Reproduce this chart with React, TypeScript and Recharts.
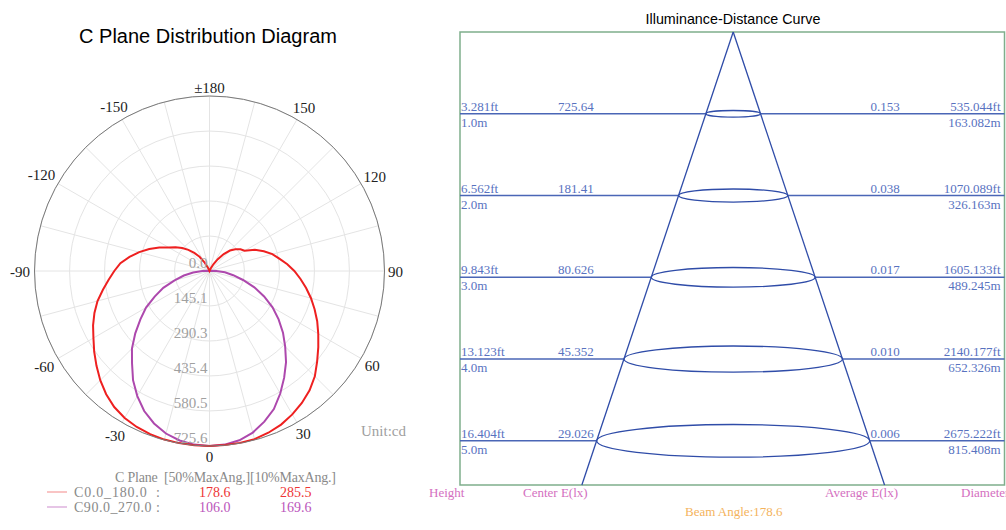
import React from 'react';
import {
  RadarChart,
  Radar,
  PolarGrid,
  PolarAngleAxis,
  PolarRadiusAxis,
  ComposedChart,
  XAxis,
  YAxis,
  ReferenceLine,
  ReferenceArea,
} from 'recharts';

const SERIF = "'Liberation Serif', 'Times New Roman', serif";
const SANS = "'Liberation Sans', Arial, sans-serif";

// ---------------- C plane polar data (cd) ----------------
const angles = [
  -180, -175, -170, -165, -160, -155, -150, -145, -140, -135, -130, -125, -120, -115, -110, -105, -100, -95,
  -90, -85, -80, -75, -70, -65, -60, -55, -50, -45, -40, -35, -30, -25, -20, -15, -10, -5,
  0, 5, 10, 15, 20, 25, 30, 35, 40, 45, 50, 55, 60, 65, 70, 75, 80, 85,
  90, 95, 100, 105, 110, 115, 120, 125, 130, 135, 140, 145, 150, 155, 160, 165, 170, 175, 180,
];
const c0Candela = [
  0, 0, 0, 0, 3, 15, 40, 72, 98, 124, 148, 172, 195, 230, 266, 302, 337, 371,
  395, 420, 449, 481, 508, 533, 556, 584, 612, 641, 667, 689, 704, 714, 720, 724, 725, 725.6,
  725.6, 725, 724, 722, 714, 703, 687, 668, 646, 618, 583, 551, 521, 493, 464, 436, 407, 379,
  352, 324, 294, 270, 240, 208, 168, 157, 140, 120, 92, 60, 32, 10, 0, 0, 0, 0, 0,
];
const c90Candela = [
  0, 0, 0, 0, 0, 0, 0, 0, 0, 0, 0, 0, 0, 0, 0, 0, 0, 8,
  30, 68, 108, 150, 204, 251, 304, 350, 402, 455, 500, 553, 599, 641, 673, 698, 714, 723,
  725.6, 723, 713, 694, 665, 632, 587, 540, 494, 444, 398, 350, 302, 250, 198, 144, 100, 64,
  28, 7, 0, 0, 0, 0, 0, 0, 0, 0, 0, 0, 0, 0, 0, 0, 0, 0, 0,
];
const radiusTicks = [0, 145.1, 290.3, 435.4, 580.5, 725.6];
const angleTicks = [
  -165, -150, -135, -120, -105, -90, -75, -60, -45, -30, -15, 0, 15, 30, 45, 60, 75, 90, 105, 120, 135, 150, 165, 180,
];
const MAX_CD = 725.6;

const planeNames = ['C0.0_180.0  :', 'C90.0_270.0 :'];
const halfMaxAngles = ['178.6', '106.0'];
const tenthMaxAngles = ['285.5', '169.6'];

// ---------------- Illuminance-distance data ----------------
const heightsM = [1, 2, 3, 4, 5];
const heightFtLabels = ['3.281ft', '6.562ft', '9.843ft', '13.123ft', '16.404ft'];
const heightMLabels = ['1.0m', '2.0m', '3.0m', '4.0m', '5.0m'];
const centerE = ['725.64', '181.41', '80.626', '45.352', '29.026'];
const averageE = ['0.153', '0.038', '0.017', '0.010', '0.006'];
const diameterFt = ['535.044ft', '1070.089ft', '1605.133ft', '2140.177ft', '2675.222ft'];
const diameterM = ['163.082m', '326.163m', '489.245m', '652.326m', '815.408m'];
const beamAngle = '178.6';

const polarData = angles.map((angle, i) => ({ angle, c0: c0Candela[i], c90: c90Candela[i] }));

// schematic cone geometry (diagram units)
const CONE_SPREAD = 1; // half-width units per metre of height
const ELLIPSE_DEPTH = 0.04; // half-depth (m) per metre of height
const X_MIN = -10;
const X_MAX = 9.93;
const Y_MAX = 5.54;

const CX = 209.5;
const CY = 271;
const OUTER_R = 175;

const RED = '#ee2020';
const PURPLE = '#ad48ad';
const LINE_BLUE = '#4a66b6';
const CONE_BLUE = '#2f4ca8';
const LABEL_BLUE = '#5872bf';
const FRAME = '#7fae8c';

const AngleTick = (props: any) => {
  const { x, y, payload } = props;
  const v = Number(payload.value);
  if (v % 30 !== 0) return <g />;
  const label = v === 180 ? '±180' : String(v);
  const dx = x - CX;
  const dy = y - CY;
  const d = Math.hypot(dx, dy) || 1;
  const ux = dx / d;
  const uy = dy / d;
  const w = label.length * 7;
  const h = 11;
  const r = OUTER_R + 4 + (Math.abs(ux) * w) / 2 + (Math.abs(uy) * h) / 2;
  return (
    <text
      x={CX + ux * r}
      y={CY + uy * r + 1}
      textAnchor="middle"
      dominantBaseline="central"
      fontFamily={SERIF}
      fontSize={15}
      fill="#222"
    >
      {label}
    </text>
  );
};

const RadiusTick = (props: any) => {
  const { x, y, payload } = props;
  return (
    <text x={x - 2} y={y - 3} textAnchor="end" fontFamily={SERIF} fontSize={15} fill="#a0a0a0">
      {Number(payload.value).toFixed(1)}
    </text>
  );
};

const EllipseShape = (props: any) => {
  const { x, y, width, height } = props;
  return (
    <ellipse
      cx={x + width / 2}
      cy={y + height / 2}
      rx={Math.abs(width) / 2}
      ry={Math.abs(height) / 2}
      fill="none"
      stroke={CONE_BLUE}
      strokeWidth={1.3}
    />
  );
};

const leftLabel = (i: number) => (p: any) => {
  const vb = p.viewBox || {};
  return (
    <g fontFamily={SERIF} fontSize={13} fill={LABEL_BLUE}>
      <text x={vb.x + 1} y={vb.y - 3}>{heightFtLabels[i]}</text>
      <text x={vb.x + 1} y={vb.y + 13}>{heightMLabels[i]}</text>
      <text x={vb.x + 98} y={vb.y - 3}>{centerE[i]}</text>
    </g>
  );
};

const rightLabel = (i: number) => (p: any) => {
  const vb = p.viewBox || {};
  const right = vb.x + vb.width;
  return (
    <g fontFamily={SERIF} fontSize={13} fill={LABEL_BLUE}>
      <text x={right - 134} y={vb.y - 3}>{averageE[i]}</text>
      <text x={right - 4} y={vb.y - 3} textAnchor="end">{diameterFt[i]}</text>
      <text x={right - 4} y={vb.y + 13} textAnchor="end">{diameterM[i]}</text>
    </g>
  );
};

export default function App() {
  return (
    <div
      style={{
        position: 'absolute',
        left: 0,
        top: 0,
        width: 1006,
        height: 530,
        overflow: 'hidden',
        background: '#fff',
      }}
    >
      <div style={{ position: 'absolute', left: 0, top: 0 }}>
        <RadarChart
          width={420}
          height={470}
          data={polarData}
          cx={CX}
          cy={CY}
          outerRadius={OUTER_R}
          innerRadius={0}
          startAngle={-270}
          endAngle={90}
          margin={{ top: 0, right: 0, bottom: 0, left: 0 }}
        >
          <PolarGrid gridType="circle" stroke="#e4e4e4" />
          <PolarRadiusAxis
            type="number"
            domain={[0, MAX_CD]}
            ticks={radiusTicks}
            angle={-90}
            axisLine={false}
            tickLine={false}
            tick={RadiusTick}
          />
          <PolarAngleAxis
            dataKey="angle"
            type="number"
            domain={[-180, 180]}
            ticks={angleTicks}
            tick={AngleTick}
            tickLine={false}
            axisLineType="circle"
            stroke="#7a7a7a"
            tickSize={10}
          />
          <Radar
            dataKey="c90"
            stroke={PURPLE}
            strokeWidth={2}
            fill="none"
            fillOpacity={0}
            dot={false}
            isAnimationActive={false}
          />
          <Radar
            dataKey="c0"
            stroke={RED}
            strokeWidth={2}
            fill="none"
            fillOpacity={0}
            dot={false}
            isAnimationActive={false}
          />
        </RadarChart>
      </div>

      <div style={{ position: 'absolute', left: 450, top: 22 }}>
        <ComposedChart width={556} height={470} margin={{ top: 10, right: 1.5, bottom: 7, left: 10 }}>
          <XAxis type="number" dataKey="x" domain={[X_MIN, X_MAX]} hide allowDataOverflow />
          <YAxis type="number" dataKey="y" domain={[0, Y_MAX]} reversed hide allowDataOverflow />
          <ReferenceArea
            x1={X_MIN}
            x2={X_MAX}
            y1={0}
            y2={Y_MAX}
            fill="none"
            fillOpacity={0}
            stroke={FRAME}
            strokeWidth={1.5}
            ifOverflow="visible"
          />
          {heightsM.map((h, i) => (
            <ReferenceLine
              key={`l${h}`}
              segment={[
                { x: X_MIN, y: h },
                { x: -h * CONE_SPREAD, y: h },
              ]}
              stroke={LINE_BLUE}
              strokeWidth={1.5}
              ifOverflow="visible"
              label={leftLabel(i)}
            />
          ))}
          {heightsM.map((h, i) => (
            <ReferenceLine
              key={`r${h}`}
              segment={[
                { x: h * CONE_SPREAD, y: h },
                { x: X_MAX, y: h },
              ]}
              stroke={LINE_BLUE}
              strokeWidth={1.5}
              ifOverflow="visible"
              label={rightLabel(i)}
            />
          ))}
          {heightsM.map((h) => (
            <ReferenceArea
              key={`e${h}`}
              x1={-h * CONE_SPREAD}
              x2={h * CONE_SPREAD}
              y1={h - h * ELLIPSE_DEPTH}
              y2={h + h * ELLIPSE_DEPTH}
              shape={EllipseShape}
              ifOverflow="visible"
            />
          ))}
          <ReferenceLine
            segment={[
              { x: 0, y: 0 },
              { x: -Y_MAX * CONE_SPREAD, y: Y_MAX },
            ]}
            stroke={CONE_BLUE}
            strokeWidth={1.3}
            ifOverflow="visible"
          />
          <ReferenceLine
            segment={[
              { x: 0, y: 0 },
              { x: Y_MAX * CONE_SPREAD, y: Y_MAX },
            ]}
            stroke={CONE_BLUE}
            strokeWidth={1.3}
            ifOverflow="visible"
          />
        </ComposedChart>
      </div>

      <svg
        width={1006}
        height={530}
        style={{ position: 'absolute', left: 0, top: 0, pointerEvents: 'none' }}
      >
        <text x={208} y={43} textAnchor="middle" fontFamily={SANS} fontSize={20} fill="#000">
          C Plane Distribution Diagram
        </text>
        <text x={733} y={24} textAnchor="middle" fontFamily={SANS} fontSize={14.3} fill="#000">
          Illuminance-Distance Curve
        </text>
        <text x={361} y={436} fontFamily={SERIF} fontSize={15} fill="#a0a0a0">
          Unit:cd
        </text>

        <text
          x={115}
          y={482}
          fontFamily={SERIF}
          fontSize={14}
          fill="#8a8a8a"
          style={{ whiteSpace: 'pre' }}
          textLength={221}
          lengthAdjust="spacing"
        >
          {'C Plane  [50%MaxAng.][10%MaxAng.]'}
        </text>
        {planeNames.map((name, i) => {
          const yy = 492 + i * 15;
          return (
            <g key={name}>
              <line x1={47} x2={67} y1={yy} y2={yy} stroke={i === 0 ? '#f6a4a4' : '#d8a6d8'} strokeWidth={1.3} />
              <text
                x={74}
                y={yy + 5}
                fontFamily={SERIF}
                fontSize={14}
                fill="#8a8a8a"
                style={{ whiteSpace: 'pre' }}
                textLength={86}
                lengthAdjust="spacing"
              >
                {name}
              </text>
              <text x={199} y={yy + 5} fontFamily={SERIF} fontSize={14} fill={i === 0 ? '#ee3535' : '#bb55bb'}>
                {halfMaxAngles[i]}
              </text>
              <text x={280} y={yy + 5} fontFamily={SERIF} fontSize={14} fill={i === 0 ? '#ee3535' : '#bb55bb'}>
                {tenthMaxAngles[i]}
              </text>
            </g>
          );
        })}

        <g fontFamily={SERIF} fontSize={13} fill="#d46fc0">
          <text x={429} y={497}>Height</text>
          <text x={523} y={497}>Center E(lx)</text>
          <text x={825} y={497}>Average E(lx)</text>
          <text x={961} y={497}>Diameter</text>
        </g>
        <text x={685} y={516} fontFamily={SERIF} fontSize={13} fill="#f4b35c">
          {`Beam Angle:${beamAngle}`}
        </text>
      </svg>
    </div>
  );
}
